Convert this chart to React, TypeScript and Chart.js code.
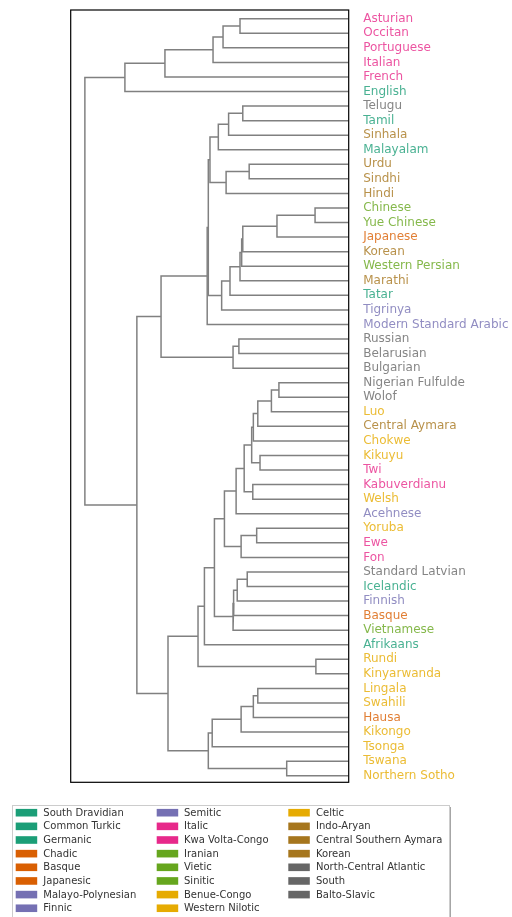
import React, { useEffect, useRef } from "react";
import { Chart, registerables } from "chart.js";

Chart.register(...registerables);

// Leaves, top to bottom
const leaves = [
  "Asturian", "Occitan", "Portuguese", "Italian", "French", "English",
  "Telugu", "Tamil", "Sinhala", "Malayalam", "Urdu", "Sindhi", "Hindi",
  "Chinese", "Yue Chinese", "Japanese", "Korean", "Western Persian", "Marathi",
  "Tatar", "Tigrinya", "Modern Standard Arabic", "Russian", "Belarusian", "Bulgarian",
  "Nigerian Fulfulde", "Wolof", "Luo", "Central Aymara", "Chokwe", "Kikuyu", "Twi",
  "Kabuverdianu", "Welsh", "Acehnese", "Yoruba", "Ewe", "Fon", "Standard Latvian",
  "Icelandic", "Finnish", "Basque", "Vietnamese", "Afrikaans", "Rundi", "Kinyarwanda",
  "Lingala", "Swahili", "Hausa", "Kikongo", "Tsonga", "Tswana", "Northern Sotho",
];

const leafFamilies = [
  "Italic", "Italic", "Italic", "Italic", "Italic", "Germanic",
  "South", "South Dravidian", "Indo-Aryan", "South Dravidian", "Indo-Aryan", "Indo-Aryan", "Indo-Aryan",
  "Sinitic", "Sinitic", "Japanesic", "Korean", "Iranian", "Indo-Aryan",
  "Common Turkic", "Semitic", "Semitic", "Balto-Slavic", "Balto-Slavic", "Balto-Slavic",
  "North-Central Atlantic", "North-Central Atlantic", "Western Nilotic", "Central Southern Aymara", "Benue-Congo", "Benue-Congo", "Kwa Volta-Congo",
  "Italic", "Celtic", "Malayo-Polynesian", "Benue-Congo", "Kwa Volta-Congo", "Kwa Volta-Congo", "Balto-Slavic",
  "Germanic", "Finnic", "Basque", "Vietic", "Germanic", "Benue-Congo", "Benue-Congo",
  "Benue-Congo", "Benue-Congo", "Chadic", "Benue-Congo", "Benue-Congo", "Benue-Congo", "Benue-Congo",
];

// Legend order (column-major, 8 per column)
const families = [
  "South Dravidian", "Common Turkic", "Germanic", "Chadic", "Basque", "Japanesic", "Malayo-Polynesian", "Finnic",
  "Semitic", "Italic", "Kwa Volta-Congo", "Iranian", "Vietic", "Sinitic", "Benue-Congo", "Western Nilotic",
  "Celtic", "Indo-Aryan", "Central Southern Aymara", "Korean", "North-Central Atlantic", "South", "Balto-Slavic",
];
const familyColors = [
  "#1b9e77", "#1b9e77", "#1b9e77", "#d95f02", "#d95f02", "#d95f02", "#7570b3", "#7570b3",
  "#7570b3", "#e7298a", "#e7298a", "#66a61e", "#66a61e", "#66a61e", "#e6ab02", "#e6ab02",
  "#e6ab02", "#a6761d", "#a6761d", "#a6761d", "#666666", "#666666", "#666666",
];

// Merges: [child A, child B, distance]; number = index of earlier merge
const merges: [string | number, string | number, number][] = [
  ["Asturian", "Occitan", 0.391],        // 0
  [0, "Portuguese", 0.452],              // 1
  [1, "Italian", 0.488],                 // 2
  [2, "French", 0.661],                  // 3
  [3, "English", 0.805],                 // 4
  ["Telugu", "Tamil", 0.381],            // 5
  [5, "Sinhala", 0.432],                 // 6
  [6, "Malayalam", 0.469],               // 7
  ["Urdu", "Sindhi", 0.358],             // 8
  [8, "Hindi", 0.441],                   // 9
  [7, 9, 0.499],                         // 10
  ["Chinese", "Yue Chinese", 0.121],     // 11
  [11, "Japanese", 0.258],               // 12
  [12, "Korean", 0.381],                 // 13
  [13, "Western Persian", 0.385],        // 14
  [14, "Marathi", 0.391],                // 15
  [15, "Tatar", 0.427],                  // 16
  [16, "Tigrinya", 0.457],               // 17
  [10, 17, 0.505],                       // 18
  [18, "Modern Standard Arabic", 0.509], // 19
  ["Russian", "Belarusian", 0.395],      // 20
  [20, "Bulgarian", 0.416],              // 21
  [19, 21, 0.675],                       // 22
  ["Nigerian Fulfulde", "Wolof", 0.251], // 23
  [23, "Luo", 0.278],                    // 24
  [24, "Central Aymara", 0.327],         // 25
  [25, "Chokwe", 0.343],                 // 26
  ["Kikuyu", "Twi", 0.319],              // 27
  [26, 27, 0.349],                       // 28
  ["Kabuverdianu", "Welsh", 0.345],      // 29
  [28, 29, 0.376],                       // 30
  [30, "Acehnese", 0.405],               // 31
  ["Yoruba", "Ewe", 0.331],              // 32
  [32, "Fon", 0.387],                    // 33
  [31, 33, 0.447],                       // 34
  ["Standard Latvian", "Icelandic", 0.365], // 35
  [35, "Finnish", 0.401],                // 36
  [36, "Basque", 0.414],                 // 37
  [37, "Vietnamese", 0.416],             // 38
  [34, 38, 0.483],                       // 39
  [39, "Afrikaans", 0.519],              // 40
  ["Rundi", "Kinyarwanda", 0.118],       // 41
  [40, 41, 0.542],                       // 42
  ["Lingala", "Swahili", 0.327],         // 43
  [43, "Hausa", 0.343],                  // 44
  [44, "Kikongo", 0.387],                // 45
  [45, "Tsonga", 0.491],                 // 46
  ["Tswana", "Northern Sotho", 0.223],   // 47
  [46, 47, 0.505],                       // 48
  [42, 48, 0.650],                       // 49
  [22, 49, 0.762],                       // 50
  [4, 50, 0.949],                        // 51
];

function withAlpha(hex: string, a: number) {
  const r = parseInt(hex.slice(1, 3), 16);
  const g = parseInt(hex.slice(3, 5), 16);
  const b = parseInt(hex.slice(5, 7), 16);
  return `rgba(${r},${g},${b},${a})`;
}

const FONT = "'DejaVu Sans', sans-serif";

export default function App() {
  const ref = useRef<HTMLCanvasElement>(null);

  useEffect(() => {
    if (!ref.current) return;
    const pos: { y: number; h: number }[] = [];
    const node = (c: string | number) =>
      typeof c === "string" ? { y: leaves.indexOf(c), h: 0 } : pos[c];
    const datasets = merges.map(([a, b, h]) => {
      const A = node(a);
      const B = node(b);
      pos.push({ y: (A.y + B.y) / 2, h });
      return {
        data: [
          { x: A.h, y: A.y },
          { x: h, y: A.y },
          { x: h, y: B.y },
          { x: B.h, y: B.y },
        ],
        showLine: true,
        borderColor: "#808080",
        borderWidth: 1.5,
        pointRadius: 0,
        fill: false,
        tension: 0,
      };
    });

    const labelColors = leafFamilies.map((f) =>
      withAlpha(familyColors[families.indexOf(f)], 0.8)
    );

    const framePlugin = {
      id: "frame",
      afterDatasetsDraw(chart: any) {
        const { ctx, chartArea } = chart;
        ctx.save();
        ctx.strokeStyle = "#000";
        ctx.lineWidth = 1.2;
        ctx.strokeRect(chartArea.left, chartArea.top, chartArea.right - chartArea.left, chartArea.bottom - chartArea.top);
        ctx.restore();
      },
    };

    const legendPlugin = {
      id: "famLegend",
      afterDraw(chart: any) {
        const ctx = chart.ctx;
        ctx.save();
        const bx = 12, by = 805, bw = 437, bh = 116;
        ctx.fillStyle = "rgba(0,0,0,0.35)";
        ctx.fillRect(bx + 2, by + 2, bw, bh);
        ctx.fillStyle = "#fff";
        ctx.fillRect(bx, by, bw, bh);
        ctx.strokeStyle = "#cccccc";
        ctx.lineWidth = 1;
        ctx.strokeRect(bx + 0.5, by + 0.5, bw, bh);
        const colPatchX = [15.7, 156.7, 288.3];
        const colTextX = [43.3, 184, 316];
        ctx.font = `10px ${FONT}`;
        ctx.textBaseline = "middle";
        ctx.textAlign = "left";
        families.forEach((f, i) => {
          const col = Math.floor(i / 8);
          const row = i % 8;
          const cy = 812.7 + row * 13.65;
          ctx.fillStyle = familyColors[i];
          ctx.fillRect(colPatchX[col], cy - 3.8, 21.5, 7.6);
          ctx.fillStyle = "#333";
          ctx.fillText(f, colTextX[col], cy + 0.5);
        });
        ctx.restore();
      },
    };

    const chart = new Chart(ref.current, {
      type: "scatter",
      data: { datasets: datasets as any },
      options: {
        animation: false,
        responsive: true,
        maintainAspectRatio: false,
        layout: { padding: { left: 70.7, top: 10, right: 0, bottom: 134.7 } },
        plugins: { legend: { display: false }, tooltip: { enabled: false } },
        scales: {
          x: {
            type: "linear",
            display: false,
            min: 0,
            max: 1,
            reverse: true,
          },
          y: {
            type: "linear",
            position: "right",
            min: -0.6,
            max: leaves.length - 0.55,
            reverse: true,
            grid: { display: false, drawTicks: false },
            border: { display: false },
            afterBuildTicks: (scale: any) => {
              scale.ticks = leaves.map((_, i) => ({ value: i }));
            },
            afterFit: (scale: any) => {
              scale.width = 512 - 348.7;
              scale.paddingTop = 0;
              scale.paddingBottom = 0;
            },
            ticks: {
              autoSkip: false,
              padding: 14.5,
              font: { family: FONT, size: 12 },
              color: (c: any) => labelColors[c.tick ? c.tick.value : c.index] || "#666",
              callback: (v: any) => leaves[v as number] ?? "",
            },
          },
        },
      },
      plugins: [framePlugin, legendPlugin],
    });
    return () => chart.destroy();
  }, []);

  return (
    <div style={{ position: "fixed", left: 0, top: 0, width: 512, height: 917, background: "#fff" }}>
      <canvas ref={ref} />
    </div>
  );
}
